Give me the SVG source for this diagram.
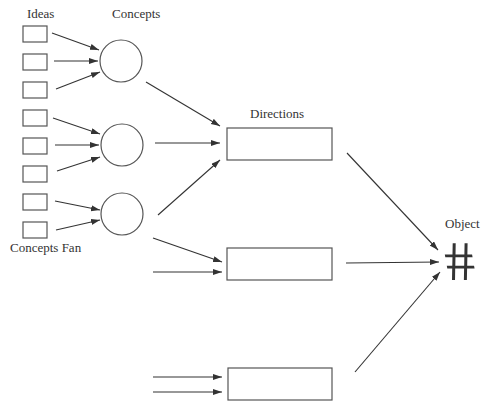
<svg xmlns="http://www.w3.org/2000/svg" width="483" height="405" viewBox="0 0 483 405">
<style>
.box{fill:#fff;stroke:#555;stroke-width:1.2}
.lbl{font-family:"Liberation Serif",serif;font-size:13px;fill:#333}
.arr{stroke:#333;stroke-width:1.1;fill:none;marker-end:url(#ah)}
</style>
<defs>
<marker id="ah" markerUnits="userSpaceOnUse" markerWidth="10" markerHeight="8" refX="9" refY="3" orient="auto">
<path d="M0,0 L9,3 L0,6 Z" fill="#333"/>
</marker>
</defs>
<rect width="483" height="405" fill="#fff"/>
<text class="lbl" x="27" y="18">Ideas</text>
<text class="lbl" x="112" y="18">Concepts</text>
<text class="lbl" x="10" y="252">Concepts Fan</text>
<text class="lbl" x="250" y="118">Directions</text>
<text class="lbl" x="445" y="228">Object</text>
<g id="idea1"><rect class="box" x="23" y="26" width="24" height="16"/></g>
<g id="idea2"><rect class="box" x="23" y="54" width="24" height="16"/></g>
<g id="idea3"><rect class="box" x="23" y="82" width="24" height="16"/></g>
<g id="idea4"><rect class="box" x="23" y="110" width="24" height="16"/></g>
<g id="idea5"><rect class="box" x="23" y="138" width="24" height="16"/></g>
<g id="idea6"><rect class="box" x="23" y="166" width="24" height="16"/></g>
<g id="idea7"><rect class="box" x="23" y="194" width="24" height="16"/></g>
<g id="idea8"><rect class="box" x="23" y="222" width="24" height="16"/></g>
<g id="concept1"><circle class="box" cx="121" cy="61" r="21"/></g>
<g id="concept2"><circle class="box" cx="122" cy="145" r="21"/></g>
<g id="concept3"><circle class="box" cx="122" cy="214" r="21"/></g>
<g id="direction1"><rect class="box" x="227" y="128" width="105" height="32"/></g>
<g id="direction2"><rect class="box" x="227" y="248" width="105" height="32"/></g>
<g id="direction3"><rect class="box" x="228" y="368" width="104" height="32"/></g>
<g id="object"><text transform="translate(463,280) skewX(10) scale(1.05,1)" text-anchor="middle" font-family="Liberation Serif,serif" font-size="56" fill="#333">#</text></g>
<g id="connectors">
<line class="arr" x1="52" y1="33" x2="99" y2="50"/>
<line class="arr" x1="54" y1="61" x2="98" y2="61"/>
<line class="arr" x1="56" y1="89" x2="100" y2="72"/>
<line class="arr" x1="53" y1="118" x2="100" y2="134"/>
<line class="arr" x1="55" y1="145" x2="99" y2="145"/>
<line class="arr" x1="57" y1="171" x2="100" y2="157"/>
<line class="arr" x1="55" y1="201" x2="100" y2="210"/>
<line class="arr" x1="56" y1="230" x2="100" y2="220"/>
<line class="arr" x1="146" y1="82" x2="220" y2="126"/>
<line class="arr" x1="155" y1="143" x2="220" y2="143"/>
<line class="arr" x1="158" y1="215" x2="220" y2="160"/>
<line class="arr" x1="153" y1="238" x2="222" y2="262"/>
<line class="arr" x1="153" y1="272" x2="222" y2="272"/>
<line class="arr" x1="153" y1="377" x2="222" y2="377"/>
<line class="arr" x1="153" y1="392" x2="222" y2="392"/>
<line class="arr" x1="347" y1="153" x2="438" y2="250"/>
<line class="arr" x1="346" y1="263" x2="439" y2="262"/>
<line class="arr" x1="355" y1="372" x2="440" y2="272"/>
</g>
</svg>
